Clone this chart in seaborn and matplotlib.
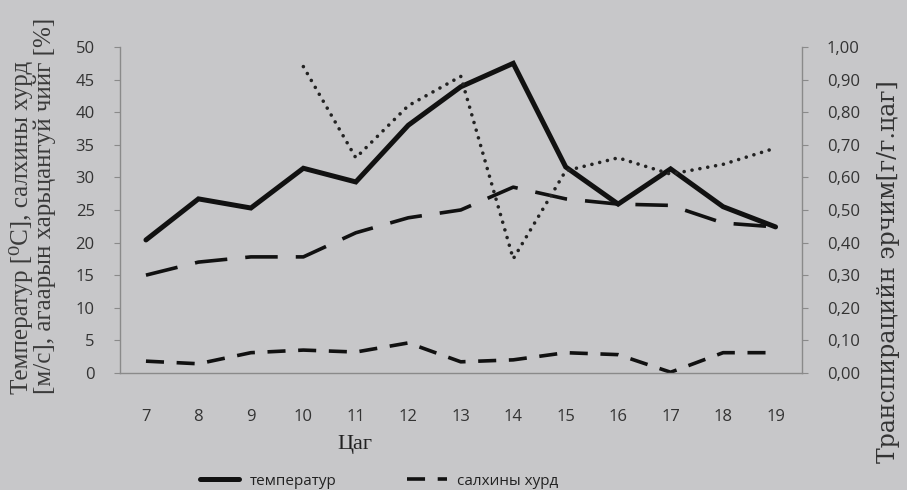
import numpy as np
import pandas as pd
import matplotlib
matplotlib.use("Agg")
import matplotlib.pyplot as plt
import seaborn as sns
from matplotlib.lines import Line2D
from matplotlib.ticker import FuncFormatter, MultipleLocator

hours = [7, 8, 9, 10, 11, 12, 13, 14, 15, 16, 17, 18, 19]
temperature = [20.4, 26.7, 25.3, 31.4, 29.3, 38.0, 43.9, 47.5, 31.6, 25.9, 31.3, 25.5, 22.4]
humidity = [15.0, 17.0, 17.8, 17.8, 21.5, 23.8, 25.0, 28.5, 26.7, 25.9, 25.7, 23.0, 22.4]
wind = [1.8, 1.4, 3.1, 3.5, 3.2, 4.6, 1.7, 2.0, 3.1, 2.8, 0.1, 3.1, 3.1]
trans_hours = [10, 11, 12, 13, 14, 15, 16, 17, 18, 19]
transpiration = [0.94, 0.66, 0.82, 0.91, 0.35, 0.62, 0.66, 0.61, 0.64, 0.69]

left_label = "Температур [⁰C], салхины хурд\n[м/с], агаарын харьцангуй чийг [%]"
right_label = "Транспирацийн эрчим[г/г.цаг]"
x_label = "Цаг"

bg = "#c7c7c9"
ink = "#111111"
spine_col = "#8a8a8a"
serif = ["Liberation Serif", "DejaVu Serif"]

sns.set_style("white")
plt.rcParams["font.family"] = ["Open Sans", "DejaVu Sans"]

fig = plt.figure(figsize=(9.07, 4.9), dpi=100, facecolor=bg)
ax = fig.add_axes([0.132, 0.239, 0.752, 0.665], facecolor=bg)
ax2 = ax.twinx()

df = pd.DataFrame({"hour": hours, "temp": temperature, "hum": humidity, "wind": wind})
tdf = pd.DataFrame({"hour": trans_hours, "trans": transpiration})

sns.lineplot(data=df, x="hour", y="temp", ax=ax, color=ink, lw=3.6,
             solid_joinstyle="miter")
sns.lineplot(data=df, x="hour", y="hum", ax=ax, color=ink, lw=2.6,
             linestyle=(0, (9, 5)))
sns.lineplot(data=df, x="hour", y="wind", ax=ax, color=ink, lw=2.6,
             linestyle=(0, (5, 3.5)))
sns.lineplot(data=tdf, x="hour", y="trans", ax=ax2, color="#222222", lw=2.6,
             linestyle=(0, (0.01, 2.2)), dash_capstyle="round")

ax.set_xlim(6.5, 19.5)
ax.set_ylim(0, 50)
ax2.set_ylim(0, 1.0)

ax.set_xticks(hours)
ax.xaxis.set_minor_locator(MultipleLocator(1, offset=0.5))
ax.yaxis.set_major_locator(MultipleLocator(5))
ax2.yaxis.set_major_locator(MultipleLocator(0.1))
ax2.yaxis.set_major_formatter(FuncFormatter(lambda v, p: f"{v:.2f}".replace(".", ",")))

for a in (ax, ax2):
    for s in a.spines.values():
        s.set_visible(False)
ax.spines["left"].set_visible(True)
ax.spines["bottom"].set_visible(True)
ax2.spines["right"].set_visible(True)
for s in (ax.spines["left"], ax.spines["bottom"], ax2.spines["right"]):
    s.set_color(spine_col)
    s.set_linewidth(1.0)

ax.tick_params(axis="x", which="major", length=0, pad=26, labelsize=12, labelcolor="#333333")
ax.tick_params(axis="x", which="minor", length=4, color=spine_col, direction="out")
ax.tick_params(axis="y", length=4, color=spine_col, pad=14, labelsize=12, labelcolor="#333333")
ax2.tick_params(axis="y", length=4, color=spine_col, pad=14, labelsize=12, labelcolor="#333333")

ax.set_xlabel(x_label, family=serif, fontsize=16, color="#222222")
ax.xaxis.set_label_coords(0.345, -0.19)
ax.set_ylabel(left_label, family=serif, fontsize=18, color="#3a3a3a",
              linespacing=1.0, multialignment="left")
ax.yaxis.set_label_coords(-0.094, 0.512)
ax2.set_ylabel(right_label, family=["DejaVu Serif"], fontsize=17, color="#333333",
               rotation=90)
ax2.yaxis.set_label_coords(1.11, 0.31)

handles = [
    Line2D([], [], color=ink, lw=3.6),
    Line2D([], [], color=ink, lw=2.6, linestyle=(0, (5, 3.5))),
]
fig.legend(handles, ["температур", "салхины хурд"], loc="center",
           bbox_to_anchor=(0.418, 1 - 481 / 490), ncol=2, frameon=False,
           fontsize=11, handlelength=2.6, columnspacing=4.6, handletextpad=0.7,
           labelcolor="#222222")

fig.savefig("out.png", dpi=100, facecolor=bg)
